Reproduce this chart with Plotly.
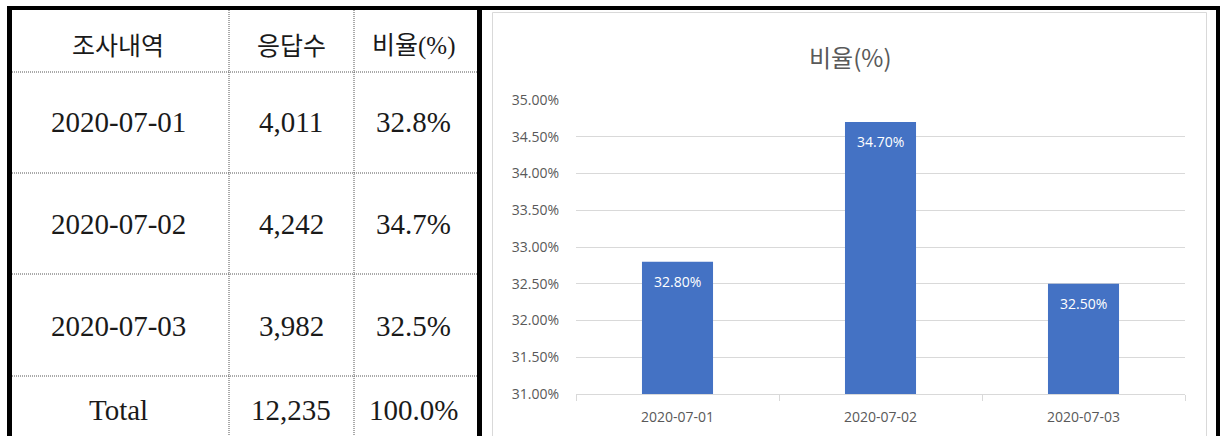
import plotly.graph_objects as go

# ---- data ----
survey_dates = ["2020-07-01", "2020-07-02", "2020-07-03"]
response_counts = [4011, 4242, 3982]
ratio_pct = [32.8, 34.7, 32.5]
total_label = "Total"
total_count = [12235]
total_pct = [100.0]
table_headers = ["조사내역", "응답수", "비율(%)"]
chart_title = "비율(%)"

W, H = 1220, 436


def px(x):
    return x / W


def py(y):
    return 1 - y / H


fig = go.Figure()

fig.add_trace(go.Bar(
    x=survey_dates,
    y=ratio_pct,
    width=0.35,
    marker=dict(color="#4472C4", line=dict(width=0)),
    hoverinfo="skip",
    showlegend=False,
))

shapes = []
annotations = []

# chart box light border
shapes.append(dict(type="rect", xref="paper", yref="paper",
                   x0=px(492.5), x1=px(1206.5), y0=py(440), y1=py(12.5),
                   line=dict(color="#d9d9d9", width=1), fillcolor="rgba(0,0,0,0)", layer="below"))

# table dotted lines
row_lines = [72, 173, 274, 376]
col_lines = [229, 354]
for yl in row_lines:
    shapes.append(dict(type="line", xref="paper", yref="paper",
                       x0=px(12), x1=px(477), y0=py(yl), y1=py(yl),
                       line=dict(color="#555555", width=1, dash="1px,1px")))
for xl in col_lines:
    shapes.append(dict(type="line", xref="paper", yref="paper",
                       x0=px(xl), x1=px(xl), y0=py(10), y1=py(440),
                       line=dict(color="#555555", width=1, dash="1px,1px")))

# thick black borders
def black_rect(x0, y0, x1, y1):
    shapes.append(dict(type="rect", xref="paper", yref="paper",
                       x0=px(x0), x1=px(x1), y0=py(y1), y1=py(y0),
                       line=dict(width=0), fillcolor="#000000"))

black_rect(7, 6, 1220, 10)
black_rect(7, 6, 12, 440)
black_rect(477, 6, 482, 440)
black_rect(1216, 6, 1220, 440)

# table text
col_centers = [118, 291, 413]
header_y = 46
row_ys = [122, 224, 326]
total_y = 410
text_color = "#1a1a1a"
serif = "Liberation Serif, Noto Sans CJK KR"

for cx, h in zip(col_centers, table_headers):
    annotations.append(dict(xref="paper", yref="paper", x=px(cx), y=py(header_y),
                            text=h, showarrow=False, xanchor="center", yanchor="middle",
                            font=dict(family=serif, size=25, color=text_color)))

for ry, d, c, r in zip(row_ys, survey_dates, response_counts, ratio_pct):
    for cx, t in zip(col_centers, [d, f"{c:,}", f"{r:.1f}%"]):
        annotations.append(dict(xref="paper", yref="paper", x=px(cx), y=py(ry),
                                text=t, showarrow=False, xanchor="center", yanchor="middle",
                                font=dict(family=serif, size=29, color=text_color)))

for cx, t in zip(col_centers, [total_label, f"{total_count[0]:,}", f"{total_pct[0]:.1f}%"]):
    annotations.append(dict(xref="paper", yref="paper", x=px(cx), y=py(total_y),
                            text=t, showarrow=False, xanchor="center", yanchor="middle",
                            font=dict(family=serif, size=29, color=text_color)))

# chart title
annotations.append(dict(xref="paper", yref="paper", x=px(850), y=py(56),
                        text=chart_title, showarrow=False, xanchor="center", yanchor="middle",
                        font=dict(family="Noto Sans CJK KR", size=24, color="#595959")))

# bar value labels
for d, v in zip(survey_dates, ratio_pct):
    annotations.append(dict(xref="x", yref="y", x=d, y=v, text=f"{v:.2f}%",
                            showarrow=False, xanchor="center", yanchor="top", yshift=-8,
                            font=dict(family="Open Sans", size=14, color="#ffffff")))

fig.update_layout(
    width=W, height=H,
    margin=dict(l=0, r=0, t=0, b=0, pad=0, autoexpand=False),
    paper_bgcolor="#ffffff",
    plot_bgcolor="#ffffff",
    shapes=shapes,
    annotations=annotations,
    showlegend=False,
    xaxis=dict(
        domain=[px(576), px(1185)],
        type="category",
        showline=True, linecolor="#d9d9d9", linewidth=1,
        ticks="outside", tickson="boundaries", ticklen=6, tickcolor="#d9d9d9",
        showgrid=False,
        tickfont=dict(family="Open Sans", size=14, color="#595959"),
        ticklabelstandoff=10,
    ),
    yaxis=dict(
        domain=[py(394), py(100)],
        range=[31, 35],
        dtick=0.5,
        tickformat=".2f",
        ticksuffix="%",
        showgrid=True, gridcolor="#d9d9d9", gridwidth=1,
        zeroline=False, showline=False,
        ticks="",
        tickfont=dict(family="Open Sans", size=14, color="#595959"),
        ticklabelstandoff=16,
    ),
)

page_fix = (
    "document.documentElement.style.margin='0';"
    "document.body.style.margin='0';document.body.style.padding='0';"
    "document.body.style.overflow='hidden';"
    "var d=document.getElementById('{plot_id}');"
    "d.style.position='fixed';d.style.left='0px';d.style.top='0px';"
)

fig.write_html("out.html", post_script=page_fix, config={"displayModeBar": False})
